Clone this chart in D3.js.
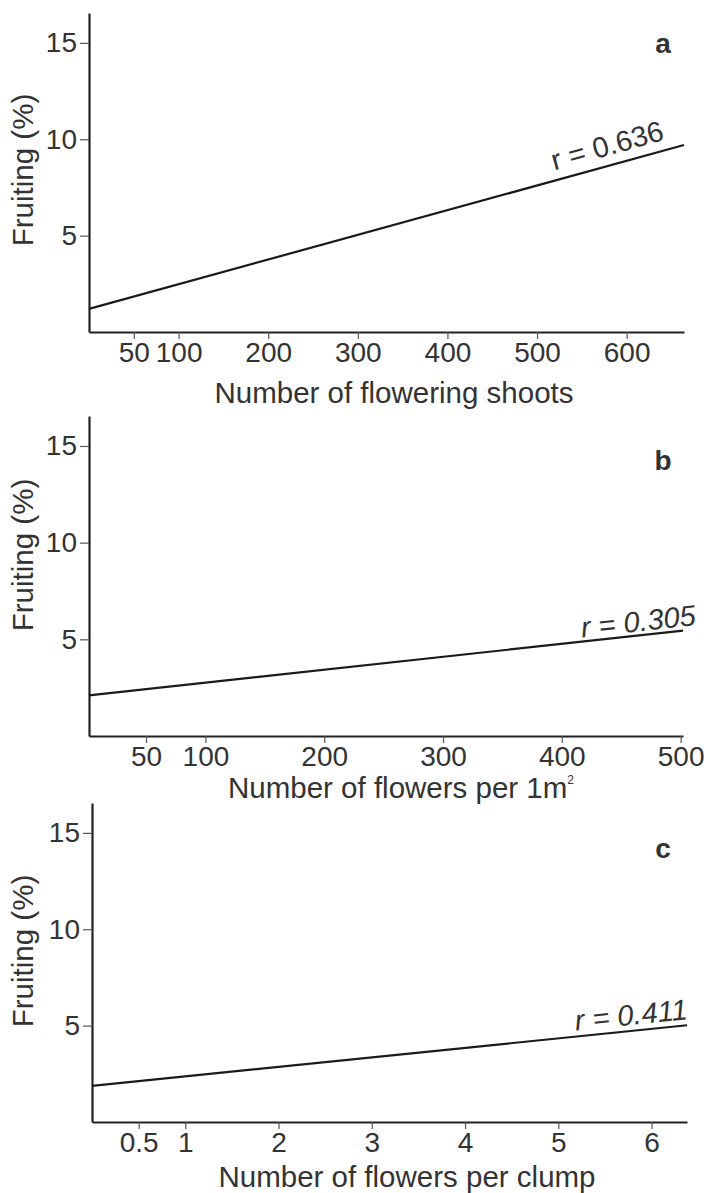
<!DOCTYPE html>
<html>
<head>
<meta charset="utf-8">
<script src="https://cdn.jsdelivr.net/npm/d3@7/dist/d3.min.js"></script>
<style>
  html, body { margin: 0; padding: 0; background: #fff; }
  svg { display: block; }
  text { font-family: "Liberation Sans", Arial, Helvetica, sans-serif; fill: #333; }
</style>
</head>
<body>
<svg id="chart" width="704" height="1193"></svg>
<script>
// ---- data ----
const panelLetters = ["a", "b", "c"];
const xAxisTitles = ["Number of flowering shoots", "Number of flowers per 1m", "Number of flowers per clump"];
const xAxisSuperscripts = ["", "2", ""];
const yAxisTitle = "Fruiting (%)";
const yTickValues = [5, 10, 15];
const yDomain = [0, 16.55];
const xTicksA = [50, 100, 200, 300, 400, 500, 600];
const xTicksB = [50, 100, 200, 300, 400, 500];
const xTicksC = [0.5, 1, 2, 3, 4, 5, 6];
const xDomainA = [0, 664];
const xDomainB = [2, 502];
const xDomainC = [0, 6.38];
const fitA = [[0, 1.2], [664, 9.7]];
const fitB = [[2, 2.1], [502, 5.45]];
const fitC = [[0, 1.87], [6.38, 5.02]];
const rLabels = ["r = 0.636", "r = 0.305", "r = 0.411"];
const rItalic = [false, true, true];

// ---- layout ----
const layout = [
  { left: 89, right: 684, top: 13,  bottom: 332, xTicks: xTicksA, xDomain: xDomainA, fit: fitA,
    titleX: 394, titleY: 403, yTitleY: 170, letterY: 53, rEndDx: -16, rLift: 10 },
  { left: 89, right: 683, top: 416, bottom: 736, xTicks: xTicksB, xDomain: xDomainB, fit: fitB,
    titleX: 401, titleY: 798, yTitleY: 555, letterY: 470, rEndDx: 14, rLift: 4 },
  { left: 92, right: 687, top: 803, bottom: 1122, xTicks: xTicksC, xDomain: xDomainC, fit: fitC,
    titleX: 407, titleY: 1187, yTitleY: 951, letterY: 858, rEndDx: 2, rLift: 6 }
];

const svg = d3.select("#chart");
const fs = 28;
const titleFs = 29.5;
const rFs = 29;

layout.forEach((L, i) => {
  const g = svg.append("g");
  const x = d3.scaleLinear().domain(L.xDomain).range([L.left, L.right]);
  const y = d3.scaleLinear().domain(yDomain).range([L.bottom, L.top]);

  // y axis
  const yAx = g.append("g").attr("transform", `translate(${L.left},0)`)
    .call(d3.axisLeft(y).tickValues(yTickValues).tickSize(9).tickPadding(3).tickSizeOuter(0));
  yAx.select(".domain").attr("stroke", "#222").attr("stroke-width", 2.2);
  yAx.selectAll(".tick line").attr("stroke", "#555").attr("stroke-width", 1.2);
  yAx.selectAll(".tick text").style("font-size", fs + "px").attr("fill", "#333")
    .style("font-family", '"Liberation Sans", Arial, sans-serif');

  // x axis
  const xAx = g.append("g").attr("transform", `translate(0,${L.bottom})`)
    .call(d3.axisBottom(x).tickValues(L.xTicks).tickFormat(d3.format("~g")).tickSize(7).tickPadding(3).tickSizeOuter(0));
  xAx.select(".domain").attr("stroke", "#222").attr("stroke-width", 2.2);
  xAx.selectAll(".tick line").attr("stroke", "#555").attr("stroke-width", 1.2);
  xAx.selectAll(".tick text").style("font-size", fs + "px").attr("fill", "#333")
    .style("font-family", '"Liberation Sans", Arial, sans-serif');

  // regression line
  const line = d3.line().x(d => x(d[0])).y(d => y(d[1]));
  g.append("path").datum(L.fit).attr("d", line)
    .attr("fill", "none").attr("stroke", "#1a1a1a").attr("stroke-width", 2.2);

  // r label along line
  const x0 = x(L.fit[0][0]), y0 = y(L.fit[0][1]);
  const x1 = x(L.fit[1][0]), y1 = y(L.fit[1][1]);
  const ang = Math.atan2(y1 - y0, x1 - x0) * 180 / Math.PI;
  const ex = x1 + L.rEndDx;
  const ey = y0 + (y1 - y0) * (ex - x0) / (x1 - x0);
  g.append("text")
    .attr("transform", `translate(${ex},${ey}) rotate(${ang}) translate(0,${-L.rLift})`)
    .attr("text-anchor", "end")
    .style("font-size", rFs + "px")
    .style("font-style", rItalic[i] ? "italic" : "normal")
    .text(rLabels[i]);

  // panel letter
  g.append("text").attr("x", 663).attr("y", L.letterY).attr("text-anchor", "middle")
    .style("font-size", "28px").style("font-weight", "bold").attr("fill", "#222")
    .text(panelLetters[i]);

  // x title
  const t = g.append("text").attr("x", L.titleX).attr("y", L.titleY).attr("text-anchor", "middle")
    .style("font-size", titleFs + "px");
  t.append("tspan").text(xAxisTitles[i]);
  if (xAxisSuperscripts[i]) {
    t.append("tspan").attr("dy", -14).style("font-size", "12px").text(xAxisSuperscripts[i]);
  }

  // y title
  g.append("text")
    .attr("transform", `translate(33,${L.yTitleY}) rotate(-90)`)
    .attr("text-anchor", "middle")
    .style("font-size", titleFs + "px")
    .text(yAxisTitle);
});
</script>
</body>
</html>
